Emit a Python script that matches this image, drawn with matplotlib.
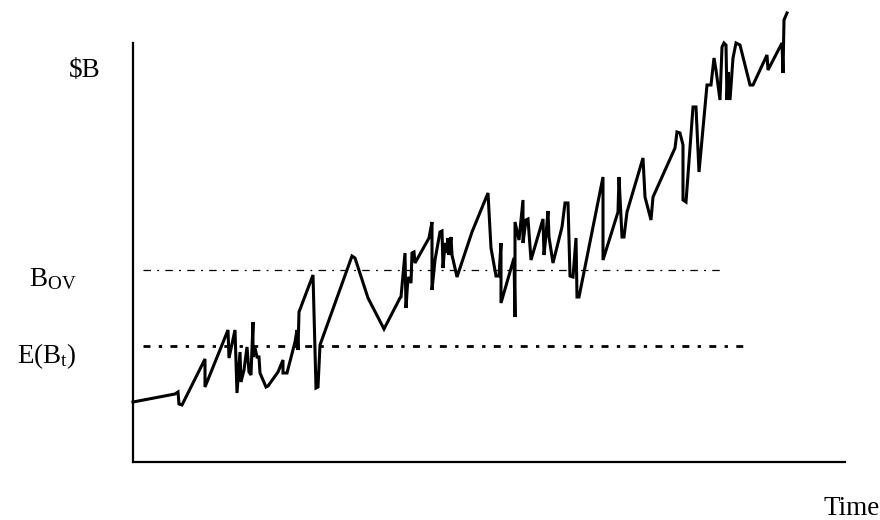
import numpy as np
import matplotlib
matplotlib.use("Agg")
import matplotlib.pyplot as plt

plt.rcParams['font.family'] = ['Liberation Serif', 'DejaVu Serif']

# time axis (arbitrary units) and balance values
time = [0, 42, 45, 46, 49, 72, 72, 95, 96, 102, 104, 107, 108, 111, 114, 116, 118, 120,
        120, 122, 124, 126, 127, 133, 135, 145, 150, 150, 154, 162, 164, 165, 166, 180,
        183, 185, 187, 219, 222, 235, 251, 267, 268, 272, 273, 275, 278, 279, 281, 282,
        296, 299, 299, 302, 307, 309, 310, 312, 314, 315, 316, 318, 319, 324, 339, 355,
        358, 363, 366, 368, 368, 381, 382, 382, 386, 390, 390, 393, 395, 398, 410, 411,
        413, 415, 416, 420, 429, 432, 435, 437, 440, 443, 444, 446, 470, 470, 485, 486,
        489, 491, 494, 510, 512, 518, 520, 542, 544, 547, 550, 550, 553, 560, 563, 566,
        574, 578, 581, 583, 587, 589, 591, 593, 594, 595, 597, 600, 603, 607, 617, 620,
        634, 635, 649, 650, 651, 654]
balance = [60, 68, 70, 58, 57, 103, 75, 132, 104, 132, 69, 110, 80, 92, 115, 90, 87, 140,
           105, 114, 105, 105, 89, 75, 76, 90, 102, 89, 89, 120, 132, 112, 150, 187,
           74, 75, 117, 206, 204, 164, 133, 164, 165, 209, 154, 185, 179, 209, 210, 199,
           224, 240, 172, 202, 230, 231, 194, 219, 209, 224, 207, 225, 207, 185, 230, 269,
           214, 186, 186, 219, 159, 204, 145, 240, 222, 262, 219, 242, 243, 202, 243, 207,
           227, 251, 225, 199, 235, 259, 259, 186, 185, 224, 165, 165, 285, 202, 250, 285,
           225, 225, 250, 304, 265, 242, 265, 314, 330, 329, 317, 262, 260, 355, 355, 290,
           377, 377, 404, 392, 362, 415, 419, 417, 362, 390, 362, 404, 419, 417, 377, 377,
           407, 392, 419, 389, 442, 449]

# reference levels
b_ov = 192
e_bt = 116
b_ov_span = (10, 592)
e_bt_span = (10, 617)

fig = plt.figure(figsize=(8.8, 5.2), dpi=100)
ax = fig.add_axes([133 / 880, 58 / 520, 712 / 880, 462 / 520])

ax.plot(time, balance, color='black', lw=2.2, solid_joinstyle='miter', clip_on=False)

ax.hlines(b_ov, *b_ov_span, colors='black', lw=0.9, linestyles=(0, (6, 5, 1.5, 5)))
ax.hlines(e_bt, *e_bt_span, colors='black', lw=2.0, linestyles=(0, (2.5, 3, 1.2, 3)))

ax.set_xlim(0, 712)
ax.set_ylim(0, 462)
ax.spines['top'].set_visible(False)
ax.spines['right'].set_visible(False)
ax.spines['left'].set_linewidth(1.6)
ax.spines['bottom'].set_linewidth(1.6)
ax.spines['left'].set_bounds(0, 419)
ax.set_xticks([])
ax.set_yticks([])

fs = 19.5
fig.text(101 / 880, 1 - 77 / 520, '$B', fontsize=fs, ha='right', va='baseline')
fig.text(77 / 880, 1 - 286 / 520, r'$\mathregular{B_{OV}}$', fontsize=fs, ha='right', va='baseline')
fig.text(77 / 880, 1 - 363 / 520, r'$\mathregular{E(B_{t})}$', fontsize=fs, ha='right', va='baseline')
fig.text(880 / 880, 1 - 515 / 520, 'Time', fontsize=fs, ha='right', va='baseline')

fig.savefig('out.png', dpi=100)
